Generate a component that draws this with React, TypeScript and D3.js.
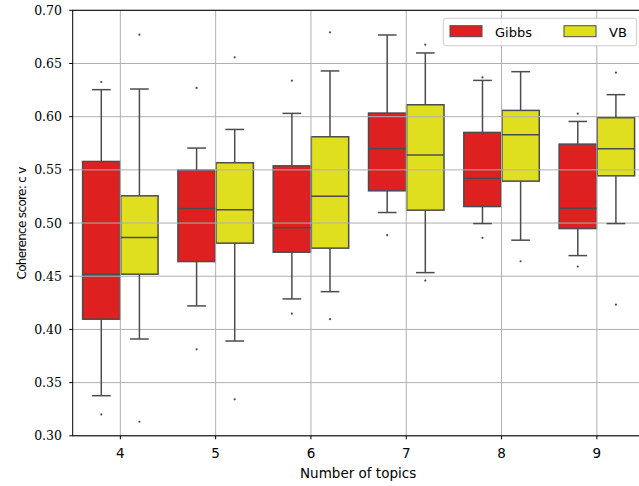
import React from "react";
import * as d3 from "d3";

const categories = ["4", "5", "6", "7", "8", "9"];
const seriesNames = ["Gibbs", "VB"];
const seriesColors = ["#df2020", "#dfdf20"];
const yTicks = [0.3, 0.35, 0.4, 0.45, 0.5, 0.55, 0.6, 0.65, 0.7];

const gibbsLow = [0.3377, 0.4221, 0.4287, 0.5099, 0.4995, 0.4694];
const gibbsQ1 = [0.4096, 0.4638, 0.4726, 0.5303, 0.5155, 0.4948];
const gibbsMedian = [0.4519, 0.5137, 0.4955, 0.5701, 0.5422, 0.514];
const gibbsQ3 = [0.5579, 0.5498, 0.5538, 0.6034, 0.5852, 0.5742];
const gibbsHigh = [0.6254, 0.5705, 0.6031, 0.6768, 0.6341, 0.5955];
const gibbsFliers = [
  [0.6326, 0.3201],
  [0.627, 0.3813],
  [0.6338, 0.4148],
  [0.4886],
  [0.6369, 0.4861],
  [0.6028, 0.4591],
];

const vbLow = [0.391, 0.3891, 0.4355, 0.4534, 0.4839, 0.4995];
const vbQ1 = [0.4519, 0.4811, 0.4764, 0.5121, 0.5394, 0.5444];
const vbMedian = [0.4864, 0.5124, 0.5253, 0.5639, 0.583, 0.5698];
const vbQ3 = [0.5256, 0.5567, 0.5811, 0.6112, 0.6059, 0.599];
const vbHigh = [0.626, 0.588, 0.643, 0.6599, 0.6423, 0.6207];
const vbFliers = [
  [0.6771, 0.3132],
  [0.6558, 0.3343],
  [0.6793, 0.4096],
  [0.6677, 0.4459],
  [0.4641],
  [0.6414, 0.4233],
];

const W = 639;
const H = 486;
const L = 72.7;
const R = 644.5;
const T = 10.3;
const B = 435.8;
const GRAY = "#4c4c4c";
const SANS = "DejaVu Sans";

export default function App() {
  const x = d3.scaleBand().domain(categories).range([L, R]).paddingInner(0).paddingOuter(0);
  const y = d3.scaleLinear().domain([0.3, 0.7]).range([B, T]);
  const step = x.bandwidth();
  const hueW = (0.8 / 2) * step;
  const boxW = hueW * 0.98;

  const series = [
    { low: gibbsLow, q1: gibbsQ1, med: gibbsMedian, q3: gibbsQ3, high: gibbsHigh, fliers: gibbsFliers },
    { low: vbLow, q1: vbQ1, med: vbMedian, q3: vbQ3, high: vbHigh, fliers: vbFliers },
  ];

  const center = (ci: number, si: number) =>
    (x(categories[ci]) as number) + step / 2 + (si === 0 ? -hueW / 2 : hueW / 2);

  return (
    <svg width={W} height={H} style={{ position: "absolute", left: 0, top: 0 }}>
      <rect x={0} y={0} width={W} height={H} fill="#fff" />
      {/* boxes */}
      {series.map((s, si) =>
        categories.map((c, ci) => {
          const cx = center(ci, si);
          return (
            <rect
              key={`b${si}${ci}`}
              x={cx - boxW / 2}
              y={y(s.q3[ci])}
              width={boxW}
              height={y(s.q1[ci]) - y(s.q3[ci])}
              fill={seriesColors[si]}
              stroke={GRAY}
              strokeWidth={1.5}
            />
          );
        })
      )}
      {/* grid */}
      {yTicks.map((t) => (
        <line key={`gy${t}`} x1={L} x2={R} y1={y(t)} y2={y(t)} stroke="#b0b0b0" strokeWidth={1} />
      ))}
      {categories.map((c) => (
        <line
          key={`gx${c}`}
          x1={(x(c) as number) + step / 2}
          x2={(x(c) as number) + step / 2}
          y1={T}
          y2={B}
          stroke="#b0b0b0"
          strokeWidth={1}
        />
      ))}
      {/* whiskers, caps, medians, fliers */}
      {series.map((s, si) =>
        categories.map((c, ci) => {
          const cx = center(ci, si);
          const capW = boxW / 2;
          return (
            <g key={`w${si}${ci}`} stroke={GRAY} strokeWidth={1.5}>
              <line x1={cx} x2={cx} y1={y(s.q3[ci])} y2={y(s.high[ci])} />
              <line x1={cx} x2={cx} y1={y(s.q1[ci])} y2={y(s.low[ci])} />
              <line x1={cx - capW / 2} x2={cx + capW / 2} y1={y(s.high[ci])} y2={y(s.high[ci])} />
              <line x1={cx - capW / 2} x2={cx + capW / 2} y1={y(s.low[ci])} y2={y(s.low[ci])} />
              <line x1={cx - boxW / 2} x2={cx + boxW / 2} y1={y(s.med[ci])} y2={y(s.med[ci])} />
              {s.fliers[ci].map((f, fi) => (
                <circle key={fi} cx={cx} cy={y(f)} r={1.1} fill={GRAY} stroke="none" />
              ))}
            </g>
          );
        })
      )}
      {/* spines */}
      <rect x={L} y={T} width={R - L} height={B - T} fill="none" stroke="#000" strokeWidth={1} />
      {/* y ticks */}
      {yTicks.map((t) => (
        <g key={`yt${t}`}>
          <line x1={L - 3.5} x2={L} y1={y(t)} y2={y(t)} stroke="#000" strokeWidth={1} />
          <text
            x={62}
            y={y(t)}
            dy="0.36em"
            textAnchor="end"
            fontFamily="DejaVu Serif"
            fontSize={12.5}
            fill="#000"
          >
            {t.toFixed(2)}
          </text>
        </g>
      ))}
      {/* x ticks */}
      {categories.map((c) => {
        const cx = (x(c) as number) + step / 2;
        return (
          <g key={`xt${c}`}>
            <line x1={cx} x2={cx} y1={B} y2={B + 3.5} stroke="#000" strokeWidth={1} />
            <text x={cx} y={458} textAnchor="middle" fontFamily={SANS} fontSize={13.5} fill="#000">
              {c}
            </text>
          </g>
        );
      })}
      <text x={(L + 644.5) / 2 - 0.5} y={477.7} textAnchor="middle" fontFamily={SANS} fontSize={13.5} fill="#000">
        Number of topics
      </text>
      <text
        transform={`translate(25.5, ${(T + B) / 2}) rotate(-90)`}
        textAnchor="middle"
        fontFamily={SANS}
        fontSize={12}
        fill="#000"
        textLength={113}
        lengthAdjust="spacing"
      >
        Coherence score:  c v
      </text>
      {/* legend */}
      <rect
        x={443.3}
        y={18.3}
        width={193.4}
        height={27.4}
        rx={3}
        fill="#fff"
        fillOpacity={0.8}
        stroke="#cccccc"
        strokeWidth={1}
      />
      {seriesNames.map((n, i) => {
        const px = i === 0 ? 450 : 564;
        return (
          <g key={n}>
            <rect x={px} y={25.7} width={32} height={11} fill={seriesColors[i]} stroke={GRAY} strokeWidth={1} />
            <text x={px + 45} y={36.5} fontFamily={SANS} fontSize={13} fill="#000">
              {n}
            </text>
          </g>
        );
      })}
    </svg>
  );
}
